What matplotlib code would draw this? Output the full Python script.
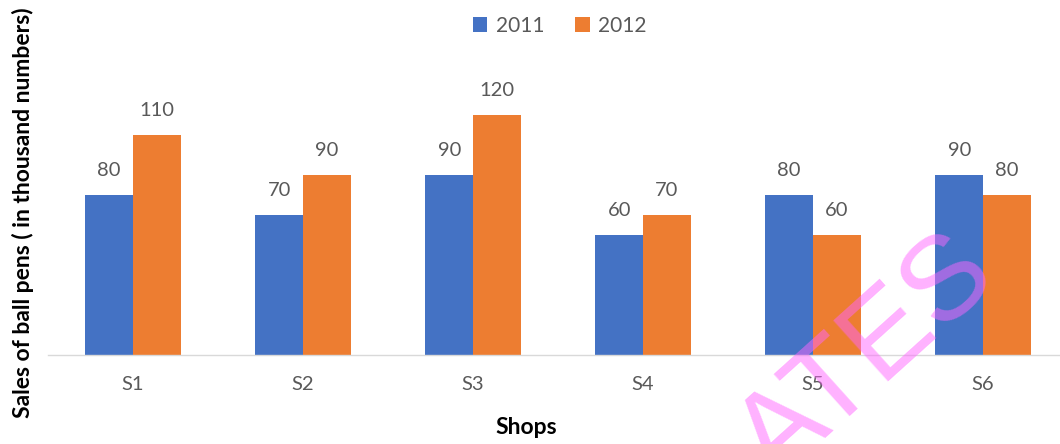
import matplotlib.pyplot as plt
import numpy as np

shops = ["S1", "S2", "S3", "S4", "S5", "S6"]
sales_2011 = [80, 70, 90, 60, 80, 90]
sales_2012 = [110, 90, 120, 70, 60, 80]

blue = "#4472c4"
orange = "#ed7d31"
grey = "#595959"

plt.rcParams['font.family'] = ['Lato', 'DejaVu Sans']

fig = plt.figure(figsize=(10.6, 4.44), dpi=100)
ax = fig.add_axes([48 / 1060, 89 / 444, 1020 / 1060, 280 / 444])

x = np.arange(len(shops))
w = 0.28
b1 = ax.bar(x - w / 2, sales_2011, w, color=blue, label="2011")
b2 = ax.bar(x + w / 2, sales_2012, w, color=orange, label="2012")

# value labels above bars
for bars in (b1, b2):
    for r in bars:
        ax.annotate(f"{int(r.get_height())}", (r.get_x() + r.get_width() / 2, r.get_height()),
                    xytext=(0, 17.5), textcoords="offset points", ha="center", va="center",
                    fontsize=14.5, color=grey)

ax.set_xlim(-0.5, 5.5)
ax.set_ylim(0, 140)
ax.set_xticks(x)
ax.set_xticklabels(shops, fontsize=14.5, color=grey)
ax.tick_params(axis="x", length=0, pad=15)
ax.set_yticks([])
for s in ["top", "right", "left"]:
    ax.spines[s].set_visible(False)
ax.spines["bottom"].set_color("#d9d9d9")
ax.spines["bottom"].set_linewidth(1)

fig.text(0.496, 0.038, "Shops", ha="center", va="center", fontsize=16.5, fontweight="bold", color="black")
fig.text(0.022, 0.52, "Sales of ball pens ( in thousand numbers)", rotation=90, ha="center", va="center",
         fontsize=16.5, fontweight="bold", color="black")

fig.legend(handles=[b1, b2], loc="center", bbox_to_anchor=(0.528, 0.942), ncol=2, frameon=False,
           fontsize=15, labelcolor=grey, handlelength=0.7, handleheight=0.7, handletextpad=0.4,
           columnspacing=1.5)

# watermark
fig.text(0.818, 0.19, "ATES", rotation=42, rotation_mode="anchor", ha="center", va="center",
         fontsize=86, fontweight="normal", family="Liberation Sans", color="#ff66ff", alpha=0.5)

fig.savefig("out.png", dpi=100)
